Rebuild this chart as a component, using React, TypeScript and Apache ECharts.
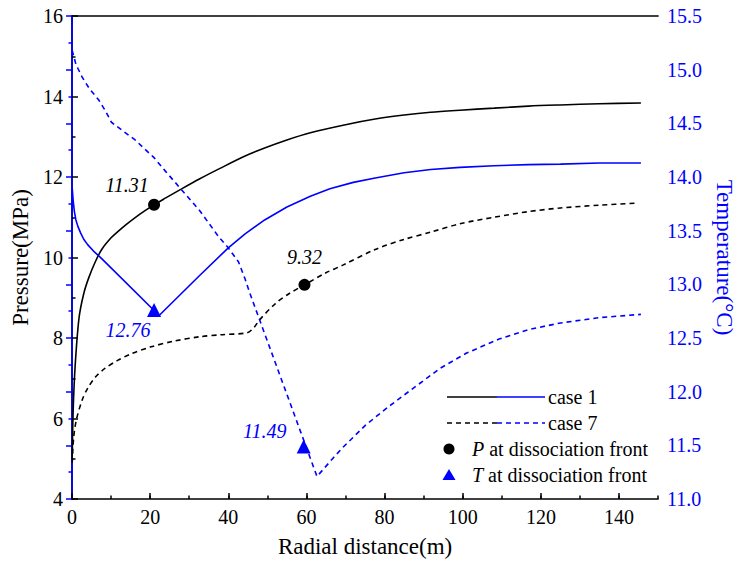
import React, { useEffect, useRef } from "react";
import * as echarts from "echarts";

const FONT = "Liberation Serif";
const BLUE = "#0000FF";

// Case 1 pressure (MPa, left axis)
const p1X = [0.05, 0.3, 0.8, 1.8, 3, 4.3, 6, 7.6, 10, 11.8, 14, 16, 18.5, 21, 24, 27.6, 32.6, 38, 44.3, 49.3, 55, 61, 70, 77.6, 85, 91.8, 99.3, 108, 116.8, 125, 135, 145.6];
const p1Y = [5.0, 6.2, 7.3, 8.5, 9.1, 9.5, 9.9, 10.2, 10.49, 10.65, 10.83, 10.98, 11.15, 11.31, 11.48, 11.68, 11.95, 12.22, 12.52, 12.72, 12.92, 13.1, 13.3, 13.44, 13.54, 13.61, 13.66, 13.71, 13.76, 13.79, 13.82, 13.84];

// Case 7 pressure (MPa, left axis)
const p7X = [0.05, 0.4, 1.1, 2.6, 4, 6, 8.5, 11.8, 15, 20.2, 26, 32.6, 38, 44.8, 46.5, 48, 52, 55.5, 59.5, 65, 69.3, 77.6, 85, 91.8, 99.3, 108, 116.8, 125, 135, 144.3];
const p7Y = [4.9, 5.5, 5.96, 6.46, 6.75, 7.03, 7.25, 7.45, 7.6, 7.78, 7.92, 8.03, 8.08, 8.13, 8.25, 8.45, 8.85, 9.1, 9.32, 9.62, 9.81, 10.2, 10.45, 10.63, 10.84, 11.0, 11.14, 11.23, 11.3, 11.35];

// Case 1 temperature (°C, right axis)
const t1X = [0.05, 0.3, 0.6, 1, 1.5, 2.2, 3, 4, 5.5, 7.6, 22.3, 32.6, 40, 44.3, 49.3, 55, 61, 66, 72, 77.6, 85, 91.8, 99.3, 108, 116.8, 125, 135, 145.6];
const t1Y = [13.9, 13.78, 13.68, 13.6, 13.54, 13.48, 13.42, 13.37, 13.31, 13.24, 12.71, 13.08, 13.34, 13.47, 13.6, 13.72, 13.82, 13.89, 13.95, 13.99, 14.04, 14.07, 14.09, 14.105, 14.115, 14.12, 14.13, 14.13];

// Case 7 temperature (°C, right axis)
const t7X = [0.05, 1, 2.6, 4.5, 6.8, 8.5, 10.1, 13, 16, 21, 24, 27.6, 32.6, 37.6, 40, 42.6, 44.3, 45.5, 47.6, 62.7, 66.8, 69.3, 75.2, 81, 88, 94.3, 101, 109.3, 117, 125, 135, 145.6];
const t7Y = [15.18, 15.05, 14.93, 14.82, 14.72, 14.62, 14.51, 14.43, 14.35, 14.18, 14.05, 13.9, 13.69, 13.44, 13.34, 13.21, 13.05, 12.92, 12.71, 11.21, 11.38, 11.48, 11.69, 11.86, 12.05, 12.22, 12.36, 12.49, 12.58, 12.64, 12.69, 12.72];

// Dissociation front points
const frontPX = [21, 59.5];
const frontPY = [11.31, 9.32];
const frontTX = [21, 59.3];
const frontTY = [12.76, 11.49];

const legendLabels = ["case 1", "case 7", "P at dissociation front", "T at dissociation front"];

const zip = (xs: number[], ys: number[]) => xs.map((x, i) => [x, ys[i]]);

export default function App() {
  const ref = useRef<HTMLDivElement>(null);
  useEffect(() => {
    document.body.style.margin = "0";
    if (!ref.current) return;
    const chart = echarts.init(ref.current, null, { renderer: "svg" });
    const txt = { fontFamily: FONT, fontSize: 20, color: "#000" };
    const lx = 447, lmid = 497, lend = 545, tx = 548;
    const rowY = [397, 423, 449, 475];
    const option: any = {
      animation: false,
      textStyle: { fontFamily: FONT },
      grid: { left: 72, right: 73, top: 16, bottom: 69 },
      xAxis: [
        {
          type: "value", min: 0, max: 150, interval: 20, position: "bottom",
          axisLine: { show: true, lineStyle: { color: "#000", width: 1.6 } },
          axisTick: { show: true, inside: true, length: 6, lineStyle: { color: "#000", width: 1.5 } },
          axisLabel: { ...txt, margin: 8, showMaxLabel: false, formatter: (v: number) => (v > 140 ? "" : String(v)) },
          splitLine: { show: false },
          name: "Radial distance(m)", nameLocation: "middle", nameGap: 36,
          nameTextStyle: { fontFamily: FONT, fontSize: 23, color: "#000" },
        },
        {
          type: "value", min: 0, max: 150, interval: 10, position: "bottom",
          axisLine: { show: false },
          axisTick: { show: true, inside: true, length: 3.5, lineStyle: { color: "#000", width: 1.5 } },
          axisLabel: { show: false }, splitLine: { show: false },
        },
        {
          type: "value", min: 0, max: 150, position: "top",
          axisLine: { show: true, lineStyle: { color: "#000", width: 1.6 } },
          axisTick: { show: false }, axisLabel: { show: false }, splitLine: { show: false },
        },
      ],
      yAxis: [
        {
          type: "value", min: 4, max: 16, interval: 2, position: "left",
          axisLine: { show: true, lineStyle: { color: "#000", width: 1.6 } },
          axisTick: { show: true, inside: true, length: 6, lineStyle: { color: "#000", width: 1.5 } },
          minorTick: { show: true, splitNumber: 2, length: 3.5, lineStyle: { color: "#000", width: 1.5 } },
          axisLabel: { ...txt, margin: 9 },
          splitLine: { show: false },
          name: "Pressure(MPa)", nameLocation: "middle", nameGap: 40,
          nameTextStyle: { fontFamily: FONT, fontSize: 23, color: "#000" },
        },
        {
          type: "value", min: 11, max: 15.5, interval: 0.5, position: "right",
          axisLine: { show: true, lineStyle: { color: BLUE, width: 1.6 } },
          axisTick: { show: true, inside: true, length: 6, lineStyle: { color: BLUE, width: 1.5 } },
          minorTick: { show: true, splitNumber: 2, length: 3.5, lineStyle: { color: BLUE, width: 1.5 } },
          axisLabel: { ...txt, color: BLUE, margin: 9, formatter: (v: number) => v.toFixed(1) },
          splitLine: { show: false },
          name: "Temperature(°C)", nameLocation: "middle", nameGap: 46, nameRotate: -90,
          nameTextStyle: { fontFamily: FONT, fontSize: 23, color: BLUE },
        },
      ],
      series: [
        { type: "line", name: "P case 1", data: zip(p1X, p1Y), xAxisIndex: 0, yAxisIndex: 0, showSymbol: false, smooth: 0.3,
          lineStyle: { color: "#000", width: 1.6 } },
        { type: "line", name: "P case 7", data: zip(p7X, p7Y), xAxisIndex: 0, yAxisIndex: 0, showSymbol: false, smooth: 0.3,
          lineStyle: { color: "#000", width: 1.6, type: [5, 4] } },
        { type: "line", name: "T case 1", data: zip(t1X, t1Y), xAxisIndex: 0, yAxisIndex: 1, showSymbol: false, smooth: false,
          lineStyle: { color: BLUE, width: 1.6 } },
        { type: "line", name: "T case 7", data: zip(t7X, t7Y), xAxisIndex: 0, yAxisIndex: 1, showSymbol: false, smooth: false,
          lineStyle: { color: BLUE, width: 1.6, type: [5, 4] } },
        {
          type: "scatter", name: "P front", xAxisIndex: 0, yAxisIndex: 0, symbol: "circle", symbolSize: 12,
          itemStyle: { color: "#000", opacity: 1 },
          data: frontPX.map((x, i) => ({
            value: [x, frontPY[i]],
            label: { show: true, position: "inside", offset: i === 0 ? [-27, -20] : [0, -28],
              formatter: frontPY[i].toFixed(2), fontFamily: FONT, fontSize: 20, fontStyle: "italic", color: "#000" },
          })),
        },
        {
          type: "scatter", name: "T front", xAxisIndex: 0, yAxisIndex: 1, symbol: "triangle", symbolSize: 14,
          itemStyle: { color: BLUE, opacity: 1 },
          data: frontTX.map((x, i) => ({
            value: [x, frontTY[i]],
            label: { show: true, position: "inside", offset: i === 0 ? [-26, 20] : [-39, -15],
              formatter: frontTY[i].toFixed(2), fontFamily: FONT, fontSize: 20, fontStyle: "italic", color: BLUE },
          })),
        },
      ],
      graphic: [
        { type: "line", shape: { x1: lx, y1: rowY[0], x2: lmid, y2: rowY[0] }, style: { stroke: "#000", lineWidth: 1.6 } },
        { type: "line", shape: { x1: lmid, y1: rowY[0], x2: lend, y2: rowY[0] }, style: { stroke: BLUE, lineWidth: 1.6 } },
        { type: "text", x: tx, y: rowY[0], style: { text: legendLabels[0], fontFamily: FONT, fontSize: 20, fill: "#000", verticalAlign: "middle" } },
        { type: "line", shape: { x1: lx, y1: rowY[1], x2: lmid, y2: rowY[1] }, style: { stroke: "#000", lineWidth: 1.6, lineDash: [5, 4] } },
        { type: "line", shape: { x1: lmid, y1: rowY[1], x2: lend, y2: rowY[1] }, style: { stroke: BLUE, lineWidth: 1.6, lineDash: [5, 4] } },
        { type: "text", x: tx, y: rowY[1], style: { text: legendLabels[1], fontFamily: FONT, fontSize: 20, fill: "#000", verticalAlign: "middle" } },
        { type: "circle", shape: { cx: 449, cy: rowY[2], r: 5.5 }, style: { fill: "#000" } },
        { type: "text", x: 472, y: rowY[2], style: { text: "{i|P}" + legendLabels[2].slice(1), fontFamily: FONT, fontSize: 20, fill: "#000", verticalAlign: "middle",
          rich: { i: { fontStyle: "italic", fontFamily: FONT, fontSize: 20, fill: "#000" } } } },
        { type: "polygon", shape: { points: [[449, rowY[3] - 6], [455.5, rowY[3] + 5], [442.5, rowY[3] + 5]] }, style: { fill: BLUE } },
        { type: "text", x: 472, y: rowY[3], style: { text: "{i|T}" + legendLabels[3].slice(1), fontFamily: FONT, fontSize: 20, fill: "#000", verticalAlign: "middle",
          rich: { i: { fontStyle: "italic", fontFamily: FONT, fontSize: 20, fill: "#000" } } } },
      ],
    };
    chart.setOption(option);
    return () => chart.dispose();
  }, []);
  return <div ref={ref} style={{ width: 744, height: 568 }} />;
}
